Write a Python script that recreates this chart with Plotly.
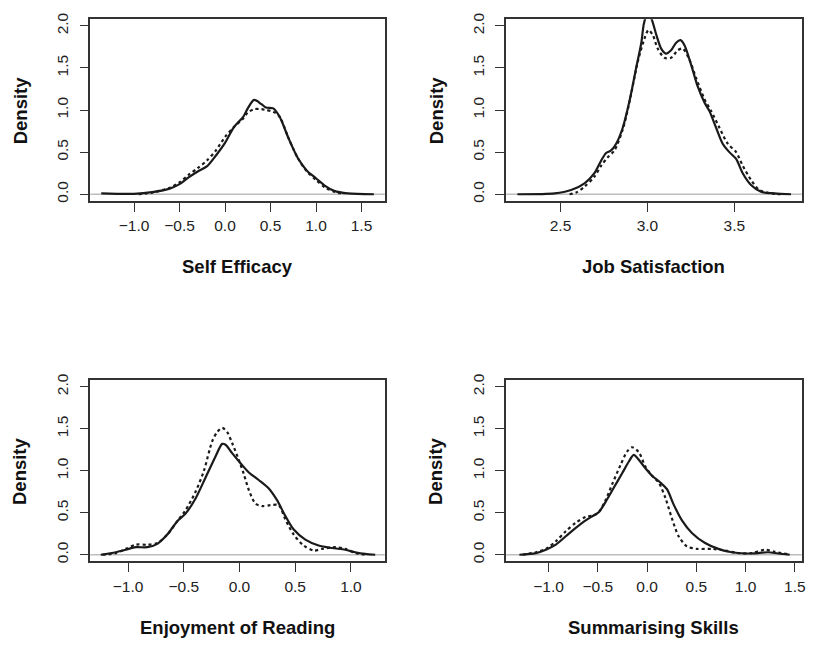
import plotly.graph_objects as go

# ---------------- data ----------------
titles = ["Self Efficacy", "Job Satisfaction", "Enjoyment of Reading", "Summarising Skills"]

se_solid_x = [-1.36, -1.0, -0.8, -0.6, -0.5, -0.4, -0.3, -0.2, -0.1, 0.0, 0.1, 0.2, 0.25, 0.32, 0.4, 0.45, 0.53, 0.6, 0.7, 0.8, 0.9, 1.0, 1.1, 1.2, 1.35, 1.636]
se_solid_y = [0.01, 0.005, 0.025, 0.07, 0.12, 0.2, 0.27, 0.33, 0.46, 0.61, 0.8, 0.92, 1.02, 1.12, 1.07, 1.03, 1.02, 0.92, 0.66, 0.43, 0.28, 0.19, 0.1, 0.04, 0.01, 0.0]
se_dot_x = [-0.95, -0.8, -0.6, -0.5, -0.4, -0.3, -0.2, -0.1, 0.0, 0.1, 0.2, 0.25, 0.32, 0.4, 0.45, 0.53, 0.6, 0.7, 0.8, 0.9, 1.0, 1.1, 1.2, 1.31]
se_dot_y = [0.0, 0.02, 0.08, 0.14, 0.23, 0.31, 0.4, 0.52, 0.68, 0.8, 0.9, 0.97, 1.01, 1.01, 1.0, 0.98, 0.92, 0.66, 0.43, 0.27, 0.17, 0.08, 0.03, 0.0]

js_solid_x = [2.252, 2.466, 2.561, 2.638, 2.695, 2.734, 2.762, 2.791, 2.82, 2.858, 2.897, 2.935, 2.964, 2.98, 3.0, 3.022, 3.05, 3.079, 3.107, 3.136, 3.165, 3.19, 3.213, 3.251, 3.289, 3.328, 3.356, 3.395, 3.433, 3.471, 3.51, 3.548, 3.596, 3.653, 3.73, 3.826]
js_solid_y = [0.0, 0.01, 0.05, 0.13, 0.25, 0.4, 0.49, 0.52, 0.6, 0.79, 1.11, 1.5, 1.79, 2.03, 2.15, 2.09, 1.9, 1.73, 1.67, 1.71, 1.8, 1.83, 1.77, 1.54, 1.28, 1.09, 0.99, 0.79, 0.6, 0.5, 0.42, 0.25, 0.11, 0.03, 0.01, 0.0]
js_dot_x = [2.552, 2.59, 2.638, 2.695, 2.734, 2.772, 2.81, 2.858, 2.897, 2.945, 2.983, 3.006, 3.031, 3.059, 3.098, 3.136, 3.174, 3.203, 3.241, 3.28, 3.328, 3.366, 3.414, 3.462, 3.51, 3.548, 3.596, 3.644, 3.711, 3.768]
js_dot_y = [0.0, 0.02, 0.09, 0.21, 0.34, 0.44, 0.52, 0.77, 1.1, 1.58, 1.85, 1.95, 1.89, 1.73, 1.62, 1.62, 1.71, 1.73, 1.6, 1.38, 1.13, 0.99, 0.79, 0.6, 0.5, 0.34, 0.17, 0.05, 0.01, 0.0]

er_solid_x = [-1.245, -1.11, -1.02, -0.93, -0.827, -0.737, -0.648, -0.558, -0.484, -0.394, -0.304, -0.215, -0.155, -0.125, -0.066, 0.009, 0.084, 0.173, 0.263, 0.337, 0.412, 0.487, 0.591, 0.71, 0.83, 0.949, 1.039, 1.128, 1.218]
er_solid_y = [0.0, 0.03, 0.06, 0.09, 0.09, 0.13, 0.24, 0.4, 0.49, 0.67, 0.92, 1.17, 1.32, 1.31, 1.21, 1.09, 0.98, 0.89, 0.79, 0.65, 0.46, 0.3, 0.18, 0.11, 0.08, 0.06, 0.03, 0.01, 0.0]
er_dot_x = [-1.23, -1.11, -1.02, -0.93, -0.827, -0.737, -0.648, -0.558, -0.484, -0.394, -0.319, -0.245, -0.2, -0.155, -0.11, -0.066, -0.006, 0.039, 0.084, 0.143, 0.203, 0.278, 0.352, 0.412, 0.487, 0.576, 0.666, 0.74, 0.86, 0.949, 1.039, 1.128]
er_dot_y = [0.0, 0.02, 0.07, 0.12, 0.12, 0.14, 0.24, 0.4, 0.53, 0.75, 1.0, 1.35, 1.46, 1.51, 1.46, 1.33, 1.13, 0.96, 0.77, 0.61, 0.58, 0.59, 0.59, 0.42, 0.24, 0.11, 0.05, 0.07, 0.09, 0.07, 0.02, 0.0]

ss_solid_x = [-1.296, -1.128, -1.027, -0.926, -0.825, -0.724, -0.623, -0.539, -0.488, -0.421, -0.337, -0.253, -0.185, -0.135, -0.084, -0.017, 0.051, 0.135, 0.202, 0.269, 0.354, 0.455, 0.589, 0.724, 0.859, 0.993, 1.128, 1.229, 1.33, 1.448]
ss_solid_y = [0.0, 0.02, 0.06, 0.12, 0.22, 0.32, 0.41, 0.47, 0.51, 0.63, 0.8, 0.97, 1.11, 1.19, 1.13, 1.03, 0.94, 0.86, 0.78, 0.6, 0.41, 0.26, 0.14, 0.07, 0.03, 0.015, 0.02, 0.03, 0.015, 0.0]
ss_dot_x = [-1.263, -1.128, -1.027, -0.926, -0.825, -0.724, -0.623, -0.539, -0.488, -0.421, -0.354, -0.269, -0.202, -0.152, -0.084, -0.017, 0.051, 0.118, 0.185, 0.253, 0.32, 0.404, 0.505, 0.657, 0.791, 0.926, 1.061, 1.195, 1.296, 1.431]
ss_dot_y = [0.0, 0.03, 0.07, 0.16, 0.28, 0.38, 0.45, 0.47, 0.51, 0.65, 0.84, 1.07, 1.23, 1.28, 1.22, 1.05, 0.94, 0.86, 0.68, 0.43, 0.22, 0.1, 0.07, 0.07, 0.05, 0.02, 0.02, 0.06, 0.035, 0.005]

x_ticks = [
    [-1.0, -0.5, 0.0, 0.5, 1.0, 1.5],
    [2.5, 3.0, 3.5],
    [-1.0, -0.5, 0.0, 0.5, 1.0],
    [-1.0, -0.5, 0.0, 0.5, 1.0, 1.5],
]
y_ticks = [0.0, 0.5, 1.0, 1.5, 2.0]
y_label = "Density"

solids = [(se_solid_x, se_solid_y), (js_solid_x, js_solid_y), (er_solid_x, er_solid_y), (ss_solid_x, ss_solid_y)]
dots = [(se_dot_x, se_dot_y), (js_dot_x, js_dot_y), (er_dot_x, er_dot_y), (ss_dot_x, ss_dot_y)]

# ---------------- layout geometry ----------------
W, H = 813, 647
x_ranges = [[-1.481, 1.756], [2.1875, 3.8875], [-1.339, 1.304], [-1.43, 1.57]]
y_range = [-0.08, 2.08]
# pixel boxes (left, right, top, bottom)
boxes = [(90.7, 386.7, 12.3, 196.7), (508.7, 805.7, 12.3, 196.7),
         (90.7, 386.7, 378.3, 562.3), (508.7, 805.7, 378.3, 562.3)]

FONT = "Liberation Sans, Arial, Helvetica, sans-serif"
INK = "#1a1a1a"
AX = "#333333"

fig = go.Figure()
layout = dict(
    width=W, height=H, margin=dict(l=0, r=0, t=0, b=0),
    paper_bgcolor="white", plot_bgcolor="white", showlegend=False,
    font=dict(family=FONT, color=INK),
)
shapes = []
annotations = []

for i in range(4):
    n = "" if i == 0 else str(i + 1)
    xa, ya = "x" + n, "y" + n
    l, r, t, b = boxes[i]
    layout["xaxis" + n] = dict(
        domain=[l / W, r / W], range=x_ranges[i], anchor=ya,
        showgrid=False, zeroline=False, showline=True, mirror=True,
        linecolor=AX, linewidth=1.5, ticks="outside", ticklen=9, tickwidth=1.3,
        tickcolor=AX, tickvals=x_ticks[i], tickformat=".1f",
        tickfont=dict(size=15.5, family=FONT, color="#222222"),
        ticklabelstandoff=1,
    )
    layout["yaxis" + n] = dict(
        domain=[1 - b / H, 1 - t / H], range=y_range, anchor=xa,
        showgrid=False, zeroline=False, showline=True, mirror=True,
        linecolor=AX, linewidth=1.5, ticks="outside", ticklen=9, tickwidth=1.3,
        tickcolor=AX, tickvals=y_ticks, tickformat=".1f", tickangle=-90,
        tickfont=dict(size=15.5, family=FONT, color="#222222"),
        ticklabelstandoff=5,
    )
    # grey zero line
    shapes.append(dict(type="line", xref=xa + " domain", yref=ya, x0=0, x1=1, y0=0, y1=0,
                       line=dict(color="#bdbdbd", width=1.6), layer="below"))
    sx, sy = solids[i]
    dx, dy = dots[i]
    fig.add_trace(go.Scatter(x=dx, y=dy, mode="lines", xaxis=xa, yaxis=ya,
                             line=dict(color=INK, width=2.2, dash="dot", shape="spline", smoothing=0.8),
                             hoverinfo="skip"))
    fig.add_trace(go.Scatter(x=sx, y=sy, mode="lines", xaxis=xa, yaxis=ya,
                             line=dict(color=INK, width=2.2, shape="spline", smoothing=0.8),
                             hoverinfo="skip"))
    annotations.append(dict(text="<b>" + titles[i] + "</b>", xref=xa + " domain", yref=ya + " domain",
                            x=0.5, y=0, xanchor="center", yanchor="middle", yshift=-66,
                            showarrow=False, font=dict(size=18.5, family=FONT, color="#111111")))
    annotations.append(dict(text="<b>" + y_label + "</b>", xref=xa + " domain", yref=ya + " domain",
                            x=0, y=0.5, xanchor="center", yanchor="middle", xshift=-70, textangle=-90,
                            showarrow=False, font=dict(size=18.5, family=FONT, color="#111111")))

layout["shapes"] = shapes
layout["annotations"] = annotations
fig.update_layout(**layout)
fig.write_html("out.html")
